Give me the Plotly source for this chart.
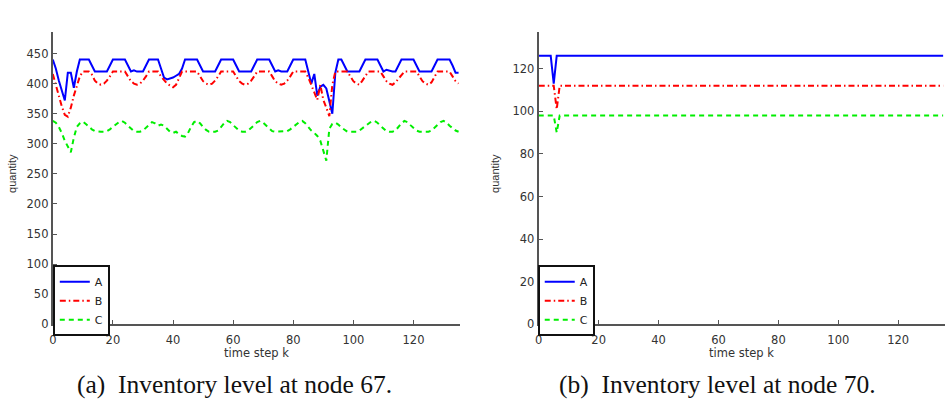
import plotly.graph_objects as go

# ---------------- data ----------------
k_left = list(range(0, 136))
A_left = [440, 425, 405, 388, 372, 418, 418, 393, 420, 440,
          440, 440, 440, 430, 420, 420, 420, 420, 420, 430,
          440, 440, 440, 440, 440, 430, 420, 422, 420, 420,
          420, 430, 440, 440, 440, 440, 425, 410, 407, 408,
          410, 413, 416, 425, 440, 440, 440, 440, 440, 430,
          420, 420, 420, 420, 420, 430, 440, 440, 440, 440,
          440, 430, 420, 420, 420, 420, 420, 430, 440, 440,
          440, 440, 440, 430, 420, 422, 420, 420, 420, 430,
          440, 440, 440, 440, 440, 420, 400, 416, 380, 395,
          398, 392, 370, 350, 418, 440, 440, 430, 420, 420,
          420, 420, 420, 430, 440, 440, 440, 440, 440, 430,
          420, 423, 421, 420, 420, 430, 440, 440, 440, 440,
          440, 430, 420, 420, 420, 420, 420, 430, 440, 440,
          440, 440, 440, 430, 418, 418]
B_left = [416, 400, 380, 362, 348, 345, 360, 380, 398, 412,
          420, 420, 420, 415, 405, 400, 398, 400, 405, 412,
          420, 420, 420, 420, 420, 412, 404, 400, 398, 400,
          405, 412, 420, 420, 420, 420, 412, 405, 400, 397,
          394, 398, 408, 420, 420, 420, 420, 420, 420, 412,
          404, 400, 398, 400, 405, 412, 420, 420, 420, 420,
          420, 412, 404, 400, 398, 400, 405, 412, 420, 420,
          420, 420, 420, 412, 404, 400, 398, 400, 405, 412,
          420, 420, 420, 420, 420, 410, 398, 385, 373, 398,
          373, 360, 346, 398, 420, 420, 420, 420, 420, 412,
          404, 400, 398, 405, 412, 420, 420, 420, 420, 420,
          412, 404, 400, 398, 402, 408, 414, 420, 420, 420,
          420, 420, 412, 404, 400, 398, 402, 410, 420, 420,
          420, 420, 420, 412, 404, 400]
C_left = [338, 335, 328, 318, 305, 295, 286, 310, 328, 334,
          337, 333, 328, 324, 321, 320, 320, 320, 321, 324,
          328, 332, 336, 338, 335, 330, 325, 321, 320, 320,
          322, 327, 332, 336, 334, 330, 332, 330, 325, 320,
          318, 320, 316, 313, 312, 318, 328, 336, 338, 334,
          328, 323, 320, 320, 320, 322, 328, 334, 338, 336,
          331, 326, 322, 320, 320, 322, 326, 331, 336, 338,
          335, 330, 325, 321, 320, 320, 320, 320, 321, 324,
          328, 332, 336, 338, 334, 328, 322, 318, 313, 305,
          290, 272, 325, 333, 335, 332, 327, 323, 320, 320,
          320, 320, 322, 326, 330, 334, 337, 338, 335, 330,
          325, 321, 320, 320, 322, 328, 334, 338, 336, 331,
          326, 322, 320, 320, 320, 320, 322, 327, 332, 336,
          338, 335, 330, 326, 322, 320]

k_right = list(range(0, 136))
A_right = [126] * 5 + [113] + [126] * 130
B_right = [112] * 6 + [101] + [112] * 129
C_right = [98] * 6 + [90] + [98] * 129

x_ticks = [0, 20, 40, 60, 80, 100, 120]
y_ticks_left = [0, 50, 100, 150, 200, 250, 300, 350, 400, 450]
y_ticks_right = [0, 20, 40, 60, 80, 100, 120]
series_names = ["A", "B", "C"]
captions = ["(a)\u00a0 Inventory level at node 67.", "(b)\u00a0 Inventory level at node 70."]

# ---------------- styling ----------------
W, H = 950, 408
colors = ["#0000ff", "#ff0000", "#00ee00"]
dashes = ["solid", "6px,3px,1.5px,3px", "5px,4px"]
tick_font = dict(family="DejaVu Sans", size=11.5, color="#333333")
axis_col = "#555555"

fig = go.Figure()
for i, (name, ys) in enumerate(zip(series_names, [A_left, B_left, C_left])):
    fig.add_trace(go.Scatter(x=k_left, y=ys, mode="lines", name=name,
                             line=dict(color=colors[i], width=2, dash=dashes[i]),
                             xaxis="x", yaxis="y", legend="legend"))
for i, (name, ys) in enumerate(zip(series_names, [A_right, B_right, C_right])):
    fig.add_trace(go.Scatter(x=k_right, y=ys, mode="lines", name=name,
                             line=dict(color=colors[i], width=2, dash=dashes[i]),
                             xaxis="x2", yaxis="y2", legend="legend2"))

def px_x(p):
    return p / W

def px_y(p):
    return 1 - p / H

ydom = [px_y(330), px_y(33)]
axis_common = dict(showline=True, linecolor=axis_col, linewidth=2, ticks="inside",
                   ticklen=4, tickcolor=axis_col, tickwidth=1, showgrid=False,
                   zeroline=False, tickfont=tick_font, mirror=False)

legend_common = dict(xanchor="left", yanchor="top", bgcolor="white",
                     bordercolor="#111111", borderwidth=2,
                     font=dict(family="DejaVu Sans", size=11, color="#222222"),
                     tracegroupgap=0)

fig.update_layout(
    width=W, height=H, margin=dict(l=0, r=0, t=0, b=0),
    paper_bgcolor="white", plot_bgcolor="white",
    xaxis=dict(domain=[px_x(49), px_x(458)], range=[0, 135.5], tickvals=x_ticks,
               anchor="y", ticklabelstandoff=4, **axis_common),
    yaxis=dict(domain=ydom, range=[0, 485], tickvals=y_ticks_left, anchor="x",
               **axis_common),
    xaxis2=dict(domain=[px_x(537), px_x(944.6)], range=[0, 135.5], tickvals=x_ticks,
                anchor="y2", ticklabelstandoff=4, **axis_common),
    yaxis2=dict(domain=ydom, range=[0, 137], tickvals=y_ticks_right, anchor="x2",
                **axis_common),
    legend=dict(x=px_x(49), y=px_y(270), **legend_common),
    legend2=dict(x=px_x(536), y=px_y(270), **legend_common),
    showlegend=True,
)

ann = []
label_font = dict(family="DejaVu Sans", size=11.5, color="#333333")
for cx, txt in [(254, "time step k"), (741, "time step k")]:
    ann.append(dict(x=px_x(cx), y=px_y(359), text=txt, showarrow=False,
                    xanchor="center", yanchor="middle",
                    xref="paper", yref="paper", font=label_font))
qfont = dict(family="Liberation Sans", size=11, color="#333333")
for cx in [8, 493]:
    ann.append(dict(x=px_x(cx), y=px_y(176), text="quantity", showarrow=False,
                    textangle=-90, xanchor="center", yanchor="middle",
                    xref="paper", yref="paper", font=qfont))
cap_font = dict(family="Liberation Serif", size=25.5, color="#111111")
for cx, txt in [(231, captions[0]), (717, captions[1])]:
    ann.append(dict(x=px_x(cx), y=px_y(391), text=txt, showarrow=False,
                    xanchor="center", yanchor="middle",
                    xref="paper", yref="paper", font=cap_font))
fig.update_layout(annotations=ann)

fig.write_html("out.html")
